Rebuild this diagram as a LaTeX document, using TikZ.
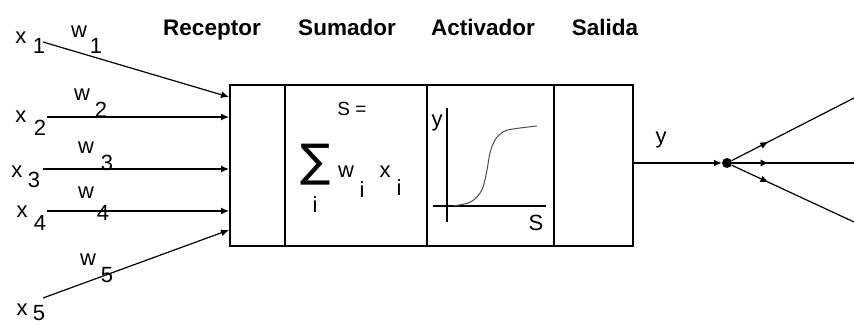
\documentclass[tikz,border=0pt]{standalone}
\usepackage{fontspec}
\setmainfont{Liberation Sans}
\newfontfamily\symfont{DejaVu Sans}
\usetikzlibrary{arrows.meta,decorations.markings}
\begin{document}
\begin{tikzpicture}[x=1pt,y=-1pt,
  lbl/.style={inner sep=0pt,anchor=base,font=\fontsize{22}{24}\selectfont},
  ttl/.style={inner sep=0pt,anchor=base,font=\fontsize{22.5}{24}\selectfont\bfseries},
  part/.style={draw,line width=2pt,minimum height=161pt,inner sep=0pt,anchor=north west},
  inarrow/.style={line width=1.2pt,-{Latex[length=8pt,width=7pt]}},
  midarrow/.style={line width=1.2pt,postaction={decorate},decoration={markings,mark=at position #1 with {\arrow{Latex[length=8pt,width=7pt]}}}}]
\useasboundingbox (0,0) rectangle (854,324);
% titles
\node[ttl] (tr) at (212,35) {Receptor};
\node[ttl] (ts) at (347,35) {Sumador};
\node[ttl] (ta) at (483,35) {Activador};
\node[ttl] (tsa) at (605,35) {Salida};
% box parts
\node[part,minimum width=55pt] (rec) at (229,84) {};
\node[part,minimum width=142pt] (sum) at (284,84) {};
\node[part,minimum width=127pt] (act) at (426,84) {};
\node[part,minimum width=79pt] (sal) at (553,84) {};
% summation
\node[inner sep=0pt,anchor=base,font=\fontsize{19}{20}\selectfont] (seq) at (352,115) {S =};
\node[inner sep=0pt,font=\fontsize{45}{46}\selectfont\symfont] (sig) at (316,165) {∑};
\node[lbl] (si) at (315,212) {i};
\node[lbl] (sw) at (346,177) {w};
\node[lbl] (swi) at (362,197) {i};
\node[lbl] (sx) at (385,177) {x};
\node[lbl] (sxi) at (399,195) {i};
% activator plot
\coordinate (vy0) at (447,108);
\coordinate (vy1) at (447,222);
\coordinate (hx0) at (433,206);
\coordinate (hx1) at (546,206);
\draw[line width=2pt] (vy0) -- (vy1);
\draw[line width=2pt] (hx0) -- (hx1);
\draw[line width=1pt,gray!60!black] plot[smooth,tension=0.6] coordinates {(453,206) (468,203) (477,197) (483,187) (487,170) (490,153) (495,140) (503,132) (513,129) (537,126)};
\node[lbl] (ay) at (437,126) {y};
\node[lbl] (as) at (536,230) {S};
% inputs
\coordinate (s1) at (43,42);  \coordinate (e1) at (229,97);
\coordinate (s2) at (47,117); \coordinate (e2) at (229,117);
\coordinate (s3) at (43,169); \coordinate (e3) at (229,169);
\coordinate (s4) at (47,211); \coordinate (e4) at (229,211);
\coordinate (s5) at (43,298); \coordinate (e5) at (229,230);
\foreach \i in {1,...,5} {\draw[inarrow] (s\i) -- (e\i);}
\node[lbl] (x1) at (21,43) {x};  \node[lbl] (x1i) at (39,53) {1};
\node[lbl] (w1) at (79,37) {w};  \node[lbl] (w1i) at (96,53) {1};
\node[lbl] (x2) at (21,122) {x}; \node[lbl] (x2i) at (40,135) {2};
\node[lbl] (w2) at (82,100) {w}; \node[lbl] (w2i) at (101,117) {2};
\node[lbl] (x3) at (17,177) {x}; \node[lbl] (x3i) at (34,187) {3};
\node[lbl] (w3) at (86,153) {w}; \node[lbl] (w3i) at (107,170) {3};
\node[lbl] (x4) at (22,217) {x}; \node[lbl] (x4i) at (40,230) {4};
\node[lbl] (w4) at (86,198) {w}; \node[lbl] (w4i) at (103,220) {4};
\node[lbl] (w5) at (88,265) {w}; \node[lbl] (w5i) at (107,282) {5};
\node[lbl] (x5) at (22,315) {x}; \node[lbl] (x5i) at (39,320) {5};
% output
\node[circle,fill,inner sep=0pt,minimum size=10pt] (dot) at (727,163) {};
\coordinate (o0) at (632,163);
\draw[inarrow] (o0) -- (dot.west);
\node[lbl] (oy) at (661,143) {y};
\coordinate (b1) at (854,98);
\coordinate (b2) at (854,163);
\coordinate (b3) at (854,222);
\draw[midarrow=0.3] (dot) -- (b1);
\draw[midarrow=0.3] (dot) -- (b2);
\draw[midarrow=0.3] (dot) -- (b3);
\end{tikzpicture}
\end{document}
